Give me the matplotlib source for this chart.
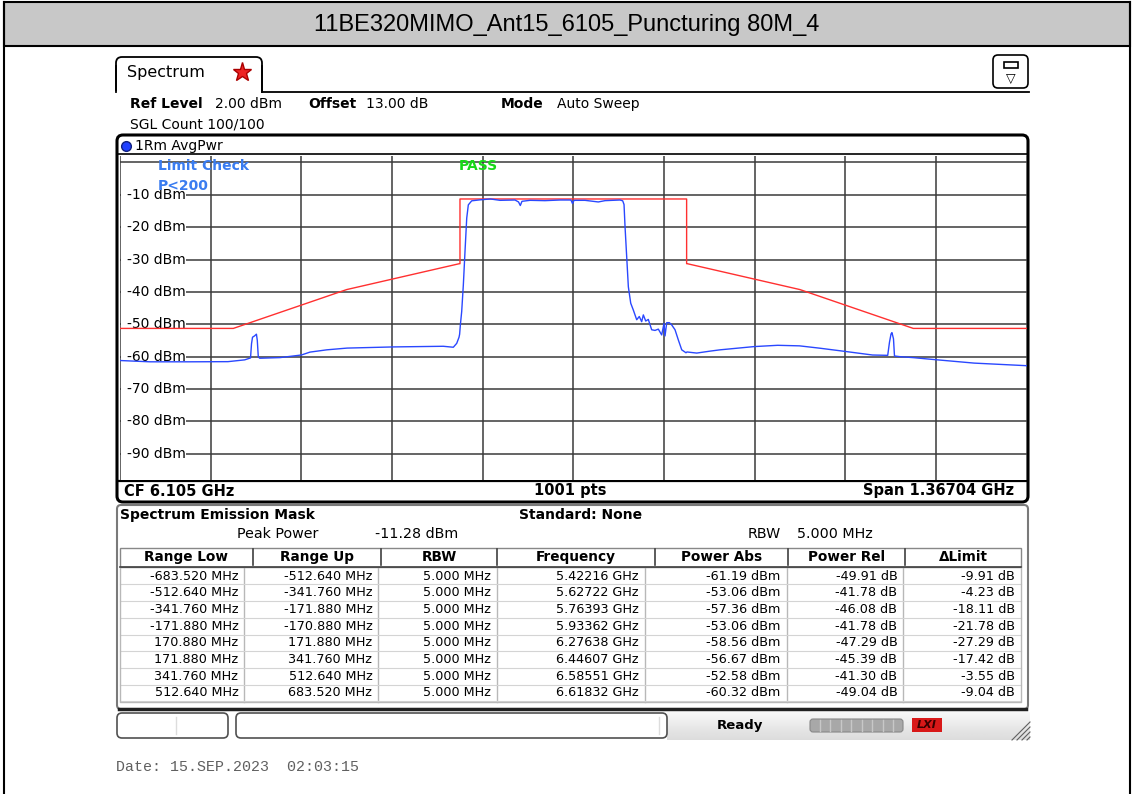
import matplotlib
matplotlib.use("Agg")
import matplotlib.pyplot as plt
import matplotlib.transforms as mtransforms
import numpy as np
from matplotlib.patches import FancyBboxPatch, Rectangle

# ---------------------------------------------------------------------------
# values
TITLE = "11BE320MIMO_Ant15_6105_Puncturing 80M_4"
SPAN_MHZ = 1367.04
REF_LEVEL = 2.0
PEAK_POWER = -11.28

# measured trace: offset from CF [MHz] and level [dBm]
trace_mhz = [-683.5, -638.3, -577.9, -520.7, -495.5, -486.7, -485.2, -483.7,
             -480.7, -477.8, -476.5, -475.0, -472.9, -442.3, -410.1, -397.0,
             -371.8, -341.1, -271.4, -196.0, -180.9, -175.8, -172.3, -171.4,
             -170.3, -168.3, -165.8, -163.3, -160.7, -158.3, -153.2, -140.7,
             -125.0, -110.5, -87.9, -82.6, -79.9, -77.4, -65.3, -42.7, -20.0,
             -3.5, -1.2, 1.1, 17.6, 37.7, 47.8, 70.4, 74.5, 76.5, 78.0, 80.5,
             83.0, 86.6, 90.5, 95.6, 99.5, 103.1, 105.6, 109.2, 113.1, 118.2,
             123.2, 128.2, 133.3, 136.8, 138.3, 140.9, 144.8, 148.4, 153.4,
             158.3, 163.5, 169.9, 171.4, 186.1, 206.2, 221.2, 272.5, 308.2,
             341.1, 372.0, 410.3, 451.2, 474.1, 476.8, 479.1, 480.5, 482.8,
             484.3, 492.0, 513.3, 532.9, 604.4, 683.5]
trace_dbm = [-61.2, -61.6, -61.6, -61.55, -61.0, -60.4, -56.0, -54.0,
             -53.6, -53.06, -55.0, -60.0, -60.5, -60.3, -59.5, -58.6,
             -57.9, -57.36, -57.0, -56.8, -57.1, -55.9, -54.0, -53.06,
             -50.2, -46.1, -37.8, -27.5, -17.2, -13.1, -11.85, -11.55,
             -11.28, -11.7, -11.6, -12.2, -13.3, -12.0, -11.7, -11.8, -11.6,
             -11.6, -12.7, -11.7, -11.7, -12.2, -11.8, -11.6, -11.85, -13.0,
             -19.8, -29.1, -38.4, -43.5, -45.6, -48.6, -47.6, -49.2, -47.1,
             -49.0, -48.5, -51.7, -51.9, -51.5, -53.3, -49.7, -53.6, -49.5,
             -49.5, -50.2, -51.7, -54.8, -57.9, -58.8, -58.56, -58.9, -58.3,
             -57.9, -56.9, -56.5, -56.67, -57.4, -58.4, -59.5, -59.6, -55.5,
             -53.0, -52.58, -54.5, -59.8, -60.0, -60.32, -60.7, -62.0, -62.8]

# spectrum emission mask, relative to peak power [dBr]
mask_mhz = [-683.52, -512.64, -341.76, -171.88, -170.88, -170.88,
            170.88, 170.88, 171.88, 341.76, 512.64, 683.52]
mask_dbr = [-40, -40, -28, -20, -20, 0, 0, -20, -20, -28, -40, -40]

# result table
range_low = [-683.52, -512.64, -341.76, -171.88, 170.88, 171.88, 341.76, 512.64]
range_up = [-512.64, -341.76, -171.88, -170.88, 171.88, 341.76, 512.64, 683.52]
rbw_mhz = [5.0, 5.0, 5.0, 5.0, 5.0, 5.0, 5.0, 5.0]
freq_ghz = [5.42216, 5.62722, 5.76393, 5.93362, 6.27638, 6.44607, 6.58551, 6.61832]
power_abs = [-61.19, -53.06, -57.36, -53.06, -58.56, -56.67, -52.58, -60.32]
power_rel = [-49.91, -41.78, -46.08, -41.78, -47.29, -45.39, -41.30, -49.04]
delta_limit = [-9.91, -4.23, -18.11, -21.78, -27.29, -17.42, -3.55, -9.04]

y_ticks = [-10, -20, -30, -40, -50, -60, -70, -80, -90]

# ---------------------------------------------------------------------------
W, H = 1134, 794
BLUE = "#2a48ff"
RED = "#ff3030"
FONT = "DejaVu Sans"

fig = plt.figure(figsize=(W / 100, H / 100), dpi=100)
fig.patch.set_facecolor("white")

# background canvas in pixel units (y downwards)
bg = fig.add_axes([0, 0, 1, 1])
bg.set_xlim(0, W)
bg.set_ylim(H, 0)
bg.axis("off")
bg.set_zorder(0)


def box(x0, y0, x1, y1, r=6, ec="black", lw=1.5, fc="none", z=1):
    p = FancyBboxPatch((x0 + r, y0 + r), x1 - x0 - 2 * r, y1 - y0 - 2 * r,
                       boxstyle=f"round,pad={r}", ec=ec, fc=fc, lw=lw,
                       zorder=z)
    bg.add_patch(p)


def txt(x, y, s, size=10, weight="normal", ha="left", color="black",
        target=None, **kw):
    kw.setdefault("family", FONT)
    (target or bg).text(x, y, s, fontsize=size, fontweight=weight, ha=ha,
                        va="center", color=color, **kw)


# header bar
bg.add_patch(Rectangle((4, 2), W - 8, 44, fc="#c8c8c8", ec="black", lw=1.5))
bg.plot([4, 4], [2, H], color="black", lw=1.5)
bg.plot([W - 4, W - 4], [2, H], color="black", lw=1.5)
txt(W / 2, 25, TITLE, size=17, ha="center", family="Liberation Sans")

# tab + icon
box(116, 57, 262, 100, r=6, lw=1.3, fc="white", z=2)
bg.add_patch(Rectangle((114, 91), 150, 12, fc="white", ec="none", zorder=3))
bg.plot([116, 116], [66, 92], color="black", lw=1.3, zorder=4)
bg.plot([262, 262], [66, 92], color="black", lw=1.3, zorder=4)
bg.plot([262, 1029], [92, 92], color="black", lw=1.3, zorder=4)
txt(127, 73, "Spectrum", size=11.5, zorder=5)
bg.plot([242], [72], marker="*", ms=14, color="#ee2222", mec="#aa0000",
        zorder=5)
box(993, 55, 1028, 88, r=5, lw=1.2, fc="white", z=2)
bg.add_patch(Rectangle((1004, 62), 14, 6, fc="white", ec="black", lw=1.2, zorder=3))
txt(1011, 78, "\u25bd", size=9, ha="center", zorder=3)

# measurement settings
txt(130, 104, "Ref Level", weight="bold")
txt(215, 104, "2.00 dBm")
txt(308, 104, "Offset", weight="bold")
txt(366, 104, "13.00 dB")
txt(501, 104, "Mode", weight="bold")
txt(557, 104, "Auto Sweep")
txt(130, 124, "SGL Count 100/100")

# diagram frame
box(117, 135, 1028, 502, r=6, lw=2.2, fc="white", z=1)
bg.plot([118, 1027], [154, 154], color="black", lw=1.2, zorder=2)
bg.plot([126], [145.5], marker="o", ms=7, color="#2040ff", mec="#102080",
        zorder=3)
txt(135, 146, "1Rm AvgPwr", size=10)
bg.plot([118, 1027], [480.5, 480.5], color="black", lw=1.6, zorder=2)
txt(124, 491, "CF 6.105 GHz", size=10.5, weight="bold")
txt(570, 491, "1001 pts", size=10.5, weight="bold", ha="center")
txt(1014, 491, "Span 1.36704 GHz", size=10.5, weight="bold", ha="right")

# ---------------------------------------------------------------------------
# diagram area
x0, x1, y0, y1 = 120, 1026.6, 156, 479.6
ax = fig.add_axes([x0 / W, 1 - y1 / H, (x1 - x0) / W, (y1 - y0) / H])
ax.set_zorder(1)
ax.set_facecolor("white")
ax.set_xlim(-SPAN_MHZ / 2, SPAN_MHZ / 2)
ax.set_ylim(REF_LEVEL - 100, REF_LEVEL)
ax.set_xticks(np.linspace(-SPAN_MHZ / 2, SPAN_MHZ / 2, 11))
ax.set_yticks([0] + y_ticks)
ax.tick_params(length=0, labelbottom=False, labelleft=False)
ax.grid(True, color="#3a3a3a", lw=1.1)
ax.set_axisbelow(True)
for s in ax.spines.values():
    s.set_visible(False)

# level labels sit on a white patch that hides the start of the grid line
lab_trans = mtransforms.blended_transform_factory(ax.transAxes, ax.transData)
px = 1 / (x1 - x0)
for v in y_ticks:
    ax.add_patch(Rectangle((1.0 * px, v - 1.4), 65 * px, 2.8,
                           transform=lab_trans, fc="white", ec="none",
                           zorder=2.5))
    ax.text(-SPAN_MHZ / 2 + 10, v, f"{v} dBm", fontsize=10, family=FONT,
            ha="left", va="center", zorder=3)

ax.plot(mask_mhz, np.array(mask_dbr) + PEAK_POWER, color=RED, lw=1.0, zorder=4)
ax.plot(trace_mhz, trace_dbm, color=BLUE, lw=1.0, zorder=5)

# labels drawn on top of the diagram
ov = fig.add_axes([0, 0, 1, 1], facecolor="none")
ov.set_xlim(0, W)
ov.set_ylim(H, 0)
ov.axis("off")
ov.set_zorder(2)
txt(158, 166.5, "Limit Check", weight="bold", color="#3a7cf0", target=ov)
txt(158, 186.5, "P<200", weight="bold", color="#3a7cf0", target=ov)
txt(459, 166.5, "PASS", weight="bold", color="#18d818", target=ov)

# ---------------------------------------------------------------------------
# result table
box(117, 505, 1028, 709, r=4, ec="#7a7a7a", lw=1.5, fc="white", z=1)
bg.plot([119, 1026], [709, 709], color="#202020", lw=2.5, zorder=2)
txt(120, 515, "Spectrum Emission Mask", weight="bold")
txt(519, 515, "Standard: None", weight="bold")
txt(237, 534, "Peak Power", size=10.3)
txt(375, 534, f"{PEAK_POWER:.2f} dBm", size=10.3)
txt(748, 534, "RBW", size=10.3)
txt(797, 534, f"{rbw_mhz[0]:.3f} MHz", size=10.3)

hdr = ["Range Low", "Range Up", "RBW", "Frequency", "Power Abs", "Power Rel",
       "\u0394Limit"]
hdr_edges = [120, 252.7, 380.7, 497.3, 655, 788.3, 905, 1021]
col_edges = [120, 244.3, 378.3, 497.3, 645, 786.7, 903.3, 1021]
bg.add_patch(Rectangle((120, 547.5), 901, 19, fc="white", ec="#888888",
                       lw=1.0, zorder=2))
for i, h in enumerate(hdr):
    xc = (hdr_edges[i] + hdr_edges[i + 1]) / 2
    txt(xc, 557.3, h, size=9.8, weight="bold", ha="center", zorder=3)
for e in hdr_edges[1:-1]:
    bg.plot([e, e], [549, 565], color="#404040", lw=1.2, zorder=3)
bg.plot([120, 1021], [566.5, 566.5], color="#404040", lw=1.2, zorder=3)

row_y = [576, 592.8, 609.5, 626.2, 642.9, 659.6, 676.3, 693]
row_h = 16.7
for e in col_edges[1:-1]:
    bg.plot([e, e], [567.5, 701.5], color="#b8b8b8", lw=1.0, zorder=2)
for y in row_y:
    bg.plot([120, 1021], [y + row_h / 2, y + row_h / 2], color="#d4d4d4",
            lw=0.8, zorder=2)
bg.plot([120, 120, 1021, 1021], [567, 701.5, 701.5, 567], color="#b8b8b8",
        lw=1.0, zorder=2)

for i, y in enumerate(row_y):
    cells = [f"{range_low[i]:.3f} MHz", f"{range_up[i]:.3f} MHz",
             f"{rbw_mhz[i]:.3f} MHz", f"{freq_ghz[i]:.5f} GHz",
             f"{power_abs[i]:.2f} dBm", f"{power_rel[i]:.2f} dB",
             f"{delta_limit[i]:.2f} dB"]
    for j, c in enumerate(cells):
        txt(col_edges[j + 1] - 6, y, c, size=9.2, ha="right", zorder=3)

# ---------------------------------------------------------------------------
# status bar
grad = np.linspace(0.97, 0.86, 30).reshape(-1, 1)
bg.imshow(grad, extent=(667, 1030, 740, 712), cmap="gray", vmin=0, vmax=1,
          aspect="auto", zorder=1)
box(117, 713, 228, 738, r=5, ec="#505050", lw=1.2, fc="white", z=2)
box(236, 713, 667, 738, r=5, ec="#505050", lw=1.2, fc="white", z=2)
bg.plot([176, 176], [717, 734], color="#dddddd", lw=1.0, zorder=3)
bg.plot([659, 659], [717, 734], color="#dddddd", lw=1.0, zorder=3)
txt(740, 725, "Ready", size=9.5, weight="bold", ha="center", zorder=3)
box(810, 719, 903, 732, r=3, ec="#888888", lw=0.8, fc="#a8a8a8", z=2)
for xs in np.linspace(820, 893, 8):
    bg.plot([xs, xs], [720, 731], color="#c8c8c8", lw=1.0, zorder=3)
bg.add_patch(Rectangle((912, 718), 30, 14, fc="#d81818", ec="none", zorder=2))
txt(927, 725, "LXI", size=8, weight="bold", ha="center", color="#3a0000",
    style="italic", zorder=3)
for k in range(4):
    bg.plot([1012 + 5 * k, 1030], [740, 722 + 5 * k], color="#606060",
            lw=0.8, zorder=3)

# time stamp
bg.text(116, 767, "Date: 15.SEP.2023  02:03:15", fontsize=10.8,
        family="Liberation Mono", color="#606060", va="center")

fig.savefig("out.png", dpi=100)
